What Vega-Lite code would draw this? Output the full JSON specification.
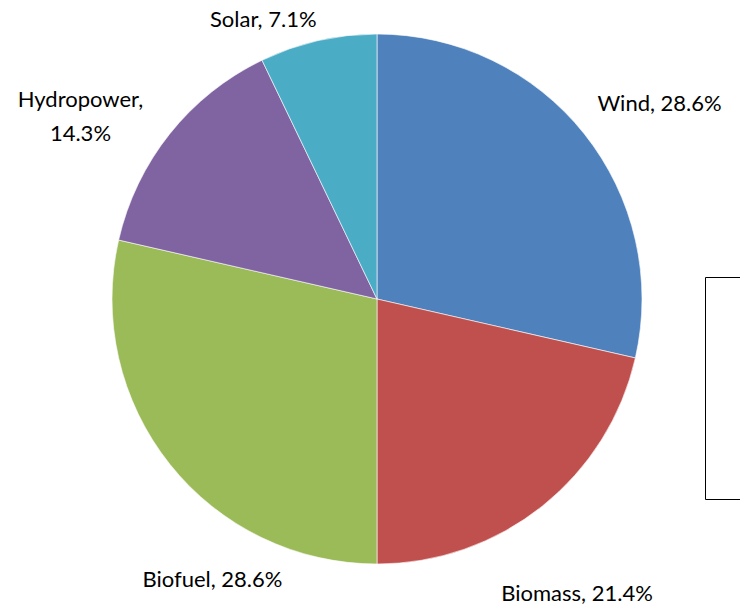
{
  "$schema": "https://vega.github.io/schema/vega-lite/v6.json",
  "width": 726,
  "height": 598,
  "autosize": {"type": "none"},
  "padding": {"left": 14, "top": 0, "right": 0, "bottom": 14},
  "background": "white",
  "config": {"view": {"stroke": null}, "font": "Lato"},
  "data": {
    "values": [
      {"source": "Wind", "value": 4, "label": "Wind, 28.6%", "rank": 1},
      {"source": "Biomass", "value": 3, "label": "Biomass, 21.4%", "rank": 2},
      {"source": "Biofuel", "value": 4, "label": "Biofuel, 28.6%", "rank": 3},
      {"source": "Hydropower", "value": 2, "label": "Hydropower,\n14.3%", "rank": 4},
      {"source": "Solar", "value": 1, "label": "Solar, 7.1%", "rank": 5}
    ]
  },
  "encoding": {
    "theta": {"field": "value", "type": "quantitative", "stack": true},
    "order": {"field": "rank", "type": "quantitative", "sort": "ascending"}
  },
  "layer": [
    {
      "mark": {"type": "arc", "outerRadius": 265, "stroke": "white", "strokeWidth": 0.6},
      "encoding": {
        "color": {
          "field": "source",
          "type": "nominal",
          "sort": ["Wind", "Biomass", "Biofuel", "Hydropower", "Solar"],
          "scale": {
            "domain": ["Wind", "Biomass", "Biofuel", "Hydropower", "Solar"],
            "range": ["#4F81BD", "#C0504D", "#9BBB59", "#8064A2", "#4BACC6"]
          },
          "legend": {
            "orient": "none",
            "legendX": 691,
            "legendY": 277,
            "title": null,
            "padding": 40,
            "strokeColor": "black",
            "fillColor": "white",
            "labelFontSize": 16,
            "labelExpr": "''",
            "symbolType": "square",
            "symbolSize": 150,
            "rowPadding": 11,
            "labelColor": "black",
            "encode": {"legend": {"update": {"strokeWidth": {"value": 1.5}}}}
          }
        }
      }
    },
    {
      "mark": {"type": "text", "radius": 300, "fontSize": 22, "align": "center", "baseline": "middle", "color": "black", "dx": 48, "dy": -8},
      "encoding": {"text": {"condition": {"test": "datum.source === 'Wind'", "field": "label"}, "value": ""}}
    },
    {
      "mark": {"type": "text", "radius": 300, "fontSize": 22, "align": "center", "baseline": "middle", "color": "black", "dx": 13, "dy": 60},
      "encoding": {"text": {"condition": {"test": "datum.source === 'Biomass'", "field": "label"}, "value": ""}}
    },
    {
      "mark": {"type": "text", "radius": 300, "fontSize": 22, "align": "center", "baseline": "middle", "color": "black", "dx": 70, "dy": 94},
      "encoding": {"text": {"condition": {"test": "datum.source === 'Biofuel'", "field": "label"}, "value": ""}}
    },
    {
      "mark": {"type": "text", "radius": 300, "fontSize": 22, "align": "center", "baseline": "middle", "color": "black", "dx": -62, "dy": -12, "lineBreak": "\n", "lineHeight": 34},
      "encoding": {"text": {"condition": {"test": "datum.source === 'Hydropower'", "field": "label"}, "value": ""}}
    },
    {
      "mark": {"type": "text", "radius": 300, "fontSize": 22, "align": "center", "baseline": "middle", "color": "black", "dx": -47, "dy": 13},
      "encoding": {"text": {"condition": {"test": "datum.source === 'Solar'", "field": "label"}, "value": ""}}
    }
  ]
}
